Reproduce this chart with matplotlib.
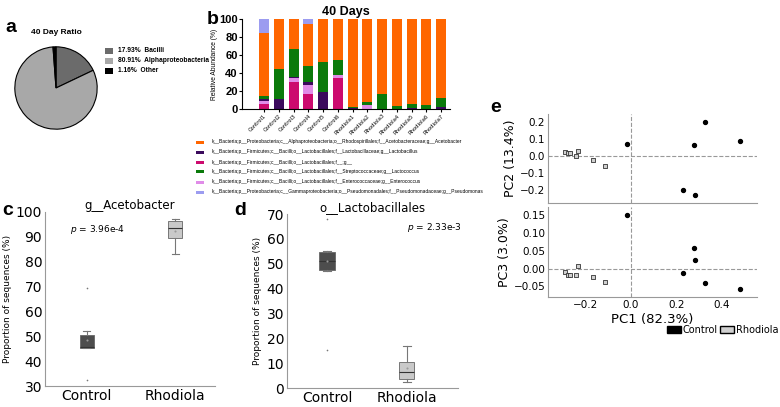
import numpy as np
import matplotlib
matplotlib.use("Agg")
import matplotlib.pyplot as plt
from matplotlib.patches import Patch

W, H = 780, 407
ARIAL = ['Liberation Sans', 'DejaVu Sans']

# ---- panel a: pie ----
pie_labels = ['17.93%  Bacilli', '80.91%  Alphaproteobacteria', '1.16%  Other']
pie_values = [17.93, 80.91, 1.16]
pie_colors = ['#6b6b6b', '#a8a8a8', '#000000']

# ---- panel b: stacked bars ----
samples = ['Control1', 'Control2', 'Control3', 'Control4', 'Control5', 'Control6',
           'Rhodiola1', 'Rhodiola2', 'Rhodiola3', 'Rhodiola4', 'Rhodiola5', 'Rhodiola6', 'Rhodiola7']
# stacked bottom -> top
g_unknown     = [6, 0, 30, 17, 0, 34, 0, 0, 0, 0, 0, 0, 0]
enterococcus  = [3, 0, 5, 10, 0, 4, 0, 5, 0, 0, 0, 0, 0]
lactobacillus = [2, 11, 1, 3, 19, 0, 1, 0, 0, 0, 1, 0, 2]
lactococcus   = [4, 34, 31, 18, 33, 16, 1, 3, 17, 3, 5, 4, 10]
acetobacter   = [70, 55, 33, 47, 48, 46, 98, 92, 83, 97, 94, 96, 88]
pseudomonas   = [15, 0, 0, 5, 0, 0, 0, 0, 0, 0, 0, 0, 0]
stack_order = [g_unknown, enterococcus, lactobacillus, lactococcus, acetobacter, pseudomonas]
stack_colors = ['#cc0a6e', '#e08ce8', '#3b0a5c', '#0b7a0b', '#ff6600', '#9c9cf0']
legend_b = [
    ('k__Bacteria;p__Proteobacteria;c__Alphaproteobacteria;o__Rhodospirillales;f__Acetobacteraceae;g__Acetobacter', '#ff6600'),
    ('k__Bacteria;p__Firmicutes;c__Bacilli;o__Lactobacillales;f__Lactobacillaceae;g__Lactobacillus', '#3b0a5c'),
    ('k__Bacteria;p__Firmicutes;c__Bacilli;o__Lactobacillales;f__;g__', '#cc0a6e'),
    ('k__Bacteria;p__Firmicutes;c__Bacilli;o__Lactobacillales;f__Streptococcaceae;g__Lactococcus', '#0b7a0b'),
    ('k__Bacteria;p__Firmicutes;c__Bacilli;o__Lactobacillales;f__Enterococcaceae;g__Enterococcus', '#e08ce8'),
    ('k__Bacteria;p__Proteobacteria;c__Gammaproteobacteria;o__Pseudomonadales;f__Pseudomonadaceae;g__Pseudomonas', '#9c9cf0'),
]

# ---- panels c, d: box stats ----
groups = ['Control', 'Rhodiola']
c_stats = [dict(med=45.6, q1=45.3, q3=50.4, whislo=45.3, whishi=52.1, mean=48.4, fliers=[69.4, 32.3]),
           dict(med=93.7, q1=89.7, q3=96.4, whislo=83.2, whishi=97.3, mean=92.4, fliers=[])]
d_stats = [dict(med=51.1, q1=47.5, q3=54.6, whislo=47.1, whishi=55.0, mean=51.0, fliers=[67.9, 15.4]),
           dict(med=6.6, q1=3.7, q3=10.6, whislo=2.5, whishi=17.0, mean=7.9, fliers=[])]
box_colors = ['#4d4d4d', '#c9c9c9']

# ---- panel e: PCoA ----
ctrl_pc1 = [-0.016, 0.229, 0.276, 0.284, 0.324, 0.478]
ctrl_pc2 = [0.068, -0.202, 0.064, -0.227, 0.200, 0.089]
ctrl_pc3 = [0.150, -0.012, 0.057, 0.023, -0.041, -0.058]
rho_pc1 = [-0.290, -0.275, -0.268, -0.243, -0.234, -0.168, -0.113]
rho_pc2 = [0.025, 0.020, 0.018, 0.000, 0.031, -0.023, -0.058]
rho_pc3 = [-0.011, -0.017, -0.017, -0.018, 0.007, -0.024, -0.038]

fig = plt.figure(figsize=(W / 100, H / 100), dpi=100)


def ax_px(x0, y0, x1, y1):
    return fig.add_axes([x0 / W, 1 - y1 / H, (x1 - x0) / W, (y1 - y0) / H])


def letter(x, y, s):
    fig.text(x / W, 1 - y / H, s, fontsize=14, fontweight='bold', family=ARIAL, ha='left', va='center')


# panel a
axa = ax_px(14, 46, 98, 130)
axa.pie(pie_values, colors=pie_colors, startangle=90, counterclock=False,
        wedgeprops=dict(edgecolor='black', linewidth=0.8))
axa.set_xlim(-1.02, 1.02)
axa.set_ylim(-1.02, 1.02)
axa.set_aspect('equal')
fig.text(56 / W, 1 - 32 / H, '40 Day Ratio', fontsize=6, fontweight='bold', family=ARIAL,
         ha='center', va='center')
for i, (lab, col) in enumerate(zip(pie_labels, pie_colors)):
    y = 51 + i * 10
    fig.patches.append(plt.Rectangle((105 / W, 1 - (y + 2.5) / H), 8 / W, 5 / H,
                                     transform=fig.transFigure, facecolor=col, edgecolor='none'))
    fig.text(118 / W, 1 - y / H, lab, fontsize=4.8, fontweight='bold', family=ARIAL,
             ha='left', va='center')
letter(5, 27, 'a')

# panel b
axb = ax_px(242, 19, 450, 109)
x = np.arange(len(samples))
bottom = np.zeros(len(samples))
for vals, col in zip(stack_order, stack_colors):
    axb.bar(x, vals, bottom=bottom, width=0.68, color=col, edgecolor='none')
    bottom += np.array(vals)
axb.set_xlim(-1.5, 12.6)
axb.set_ylim(0, 100)
axb.set_yticks([0, 20, 40, 60, 80, 100])
axb.tick_params(axis='y', labelsize=8, length=2, pad=1)
for t in axb.get_yticklabels():
    t.set_fontweight('bold')
    t.set_family(ARIAL)
axb.set_xticks(x)
axb.set_xticklabels(samples, rotation=45, ha='right', rotation_mode='anchor', fontsize=3.8)
axb.tick_params(axis='x', length=2, pad=1)
axb.set_ylabel('Relative Abundance (%)', fontsize=4.8, family=ARIAL, labelpad=1)
for s in ['top', 'right']:
    axb.spines[s].set_visible(False)
axb.set_title('40 Days', fontsize=9, fontweight='bold', family=ARIAL, pad=3)
letter(207, 19, 'b')
for i, (lab, col) in enumerate(legend_b):
    y = 142 + i * 10
    fig.patches.append(plt.Rectangle((196 / W, 1 - (y + 1.5) / H), 8 / W, 3 / H,
                                     transform=fig.transFigure, facecolor=col, edgecolor='none'))
    fig.text(212 / W, 1 - y / H, lab, fontsize=3.5, family=ARIAL, ha='left', va='center')


def box_panel(rect, stats, ylim, yticks, width, title, ptext, ppos, xlim):
    ax = ax_px(*rect)
    bp = ax.bxp(stats, positions=[1, 2], widths=width, patch_artist=True, showmeans=True,
                meanprops=dict(marker='o', markersize=1.5, markerfacecolor='#999999', markeredgecolor='none'),
                medianprops=dict(color='#333333', linewidth=0.8),
                whiskerprops=dict(color='#777777', linewidth=0.8),
                capprops=dict(color='#777777', linewidth=0.8),
                flierprops=dict(marker='o', markersize=1.2, markerfacecolor='#777777', markeredgecolor='none'))
    for patch, col in zip(bp['boxes'], box_colors):
        patch.set_facecolor(col)
        patch.set_edgecolor('#666666')
        patch.set_linewidth(0.6)
    ax.set_xlim(*xlim)
    ax.set_ylim(*ylim)
    ax.set_yticks(yticks)
    ax.set_xticks([1, 2])
    ax.set_xticklabels(groups)
    ax.tick_params(length=0, pad=2, labelsize=10)
    ax.set_ylabel('Proportion of sequences (%)', fontsize=6.5, labelpad=3)
    for s in ['top', 'right']:
        ax.spines[s].set_visible(False)
    for s in ['left', 'bottom']:
        ax.spines[s].set_color('#999999')
        ax.spines[s].set_linewidth(0.8)
    ax.set_title(title, fontsize=8.5, pad=2)
    ax.text(ppos[0], ppos[1], ptext, transform=ax.transAxes, fontsize=6.5, ha='left', va='center')
    return ax


box_panel((45, 212, 215, 386), c_stats, (30, 100), [30, 40, 50, 60, 70, 80, 90, 100], 0.16,
          'g__Acetobacter', r'$\mathit{p}$ = 3.96e-4', (0.15, 0.9), (0.53, 2.45))
letter(2, 210, 'c')
box_panel((287, 214, 458, 388), d_stats, (0, 70), [0, 10, 20, 30, 40, 50, 60, 70], 0.19,
          'o__Lactobacillales', r'$\mathit{p}$ = 2.33e-3', (0.7, 0.92), (0.5, 2.64))
letter(234, 210, 'd')

# panel e
axe1 = ax_px(548, 114, 757, 203)
axe2 = ax_px(548, 207, 757, 297)
for ax, yc, yr, ylim, yticks, lab in [
        (axe1, ctrl_pc2, rho_pc2, (-0.276, 0.247), [-0.2, -0.1, 0.0, 0.1, 0.2], 'PC2 (13.4%)'),
        (axe2, ctrl_pc3, rho_pc3, (-0.08, 0.173), [-0.05, 0.0, 0.05, 0.10, 0.15], 'PC3 (3.0%)')]:
    ax.axhline(0, color='#999999', linestyle='--', linewidth=0.8, zorder=0)
    ax.axvline(0, color='#999999', linestyle='--', linewidth=0.8, zorder=0)
    ax.scatter(ctrl_pc1, yc, s=8, color='black', zorder=3)
    ax.scatter(rho_pc1, yr, s=9, marker='s', facecolor='#d0d0d0', edgecolor='#333333',
               linewidth=0.6, zorder=3)
    ax.set_xlim(-0.365, 0.555)
    ax.set_ylim(*ylim)
    ax.set_yticks(yticks)
    ax.set_xticks([-0.2, 0.0, 0.2, 0.4])
    ax.tick_params(labelsize=7.5, length=0, pad=2)
    ax.set_ylabel(lab, fontsize=9, labelpad=2)
    for s in ['top', 'right']:
        ax.spines[s].set_visible(False)
    for s in ['left', 'bottom']:
        ax.spines[s].set_color('#999999')
        ax.spines[s].set_linewidth(0.8)
axe2.set_yticklabels(['\u22120.05', '0.00', '0.05', '0.10', '0.15'])
axe1.set_xticklabels([])
axe1.set_yticklabels(['\u22120.2', '\u22120.1', '0.0', '0.1', '0.2'])
axe2.set_xlabel('PC1 (82.3%)', fontsize=9.5, labelpad=2)
letter(490, 108, 'e')
handles = [Patch(facecolor='black', edgecolor='black', label='Control'),
           Patch(facecolor='#d0d0d0', edgecolor='black', label='Rhodiola')]
fig.legend(handles=handles, loc='center right', bbox_to_anchor=(779 / W, 1 - 330 / H), ncol=2,
           frameon=False, prop=dict(size=7),
           handlelength=1.4, handleheight=0.6, handletextpad=0.15, columnspacing=0.3,
           borderpad=0.1, borderaxespad=0)

fig.savefig('out.png', dpi=100)
